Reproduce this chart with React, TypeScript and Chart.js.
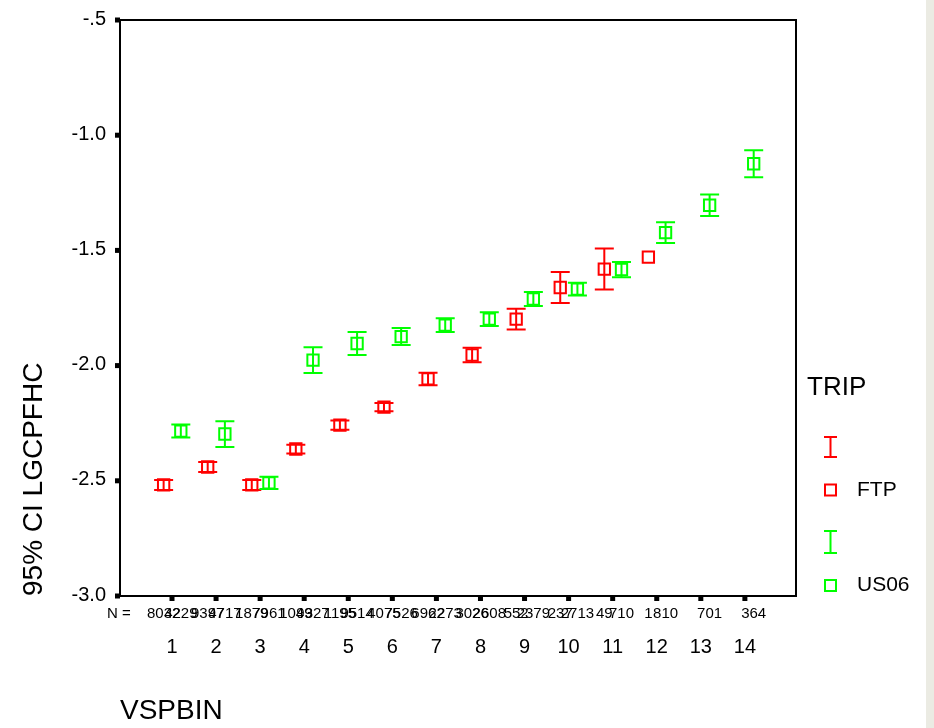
import React, { useEffect, useRef } from "react";
import { Chart, registerables } from "chart.js";

Chart.register(...registerables);

// ---------- data ----------
const categories = [1, 2, 3, 4, 5, 6, 7, 8, 9, 10, 11, 12, 13, 14];
const xTickLabels = ["1", "2", "3", "4", "5", "6", "7", "8", "9", "10", "11", "12", "13", "14"];
const yTickValues = [-3, -2.5, -2, -1.5, -1, -0.5];
const yTickLabels = ["-3.0", "-2.5", "-2.0", "-1.5", "-1.0", "-.5"];

const ftpCategories = [1, 2, 3, 4, 5, 6, 7, 8, 9, 10, 11, 12];
const ftpMean = [-2.518, -2.44, -2.518, -2.362, -2.258, -2.18, -2.058, -1.954, -1.798, -1.661, -1.581, -1.529];
const ftpHalfCI = [0.022, 0.022, 0.022, 0.019, 0.02, 0.018, 0.027, 0.032, 0.045, 0.067, 0.089, null];
const ftpN = ["8032", "9397", "1879", "1049", "1195", "4075", "6962", "3026", "552", "237", "49", "1"];

const us06Categories = [1, 2, 3, 4, 5, 6, 7, 8, 9, 10, 11, 12, 13, 14];
const us06Mean = [-2.284, -2.297, -2.509, -1.976, -1.904, -1.874, -1.824, -1.798, -1.711, -1.668, -1.583, -1.423, -1.304, -1.124];
const us06HalfCI = [0.028, 0.056, 0.027, 0.056, 0.05, 0.037, 0.03, 0.03, 0.03, 0.028, 0.033, 0.045, 0.047, 0.059];
const us06N = ["4229", "4717", "7961", "9327", "9514", "7526", "2273", "2608", "2379", "2713", "710", "810", "701", "364"];

const seriesNames = ["FTP", "US06"];
const legendTitle = "TRIP";
const yTitle = "95% CI LGCPFHC";
const xTitle = "VSPBIN";

// ---------- style ----------
const RED = "#ff0000";
const GREEN = "#00ff00";
const FONT = "Arial, 'Liberation Sans', sans-serif";
const FTP_OFFSET = -0.19;
const US06_OFFSET = 0.2;

const App: React.FC = () => {
  const ref = useRef<HTMLCanvasElement | null>(null);

  useEffect(() => {
    document.body.style.margin = "0";
    const canvas = ref.current;
    if (!canvas) return;

    const ciLists = [ftpHalfCI, us06HalfCI];
    const meanLists = [ftpMean, us06Mean];
    const nLists = [ftpN, us06N];

    const customPlugin = {
      id: "spssStyle",
      afterDatasetsDraw(chart: any) {
        const ctx = chart.ctx;
        const yScale = chart.scales.y;
        ctx.save();
        ctx.lineWidth = 2;
        chart.data.datasets.forEach((ds: any, di: number) => {
          const meta = chart.getDatasetMeta(di);
          ctx.strokeStyle = ds.borderColor;
          meta.data.forEach((pt: any, i: number) => {
            const h = ciLists[di][i];
            if (h == null) return;
            const m = meanLists[di][i];
            const x = pt.x;
            const y1 = yScale.getPixelForValue(m + h);
            const y2 = yScale.getPixelForValue(m - h);
            ctx.beginPath();
            ctx.moveTo(x, y1);
            ctx.lineTo(x, y2);
            ctx.moveTo(x - 9.5, y1);
            ctx.lineTo(x + 9.5, y1);
            ctx.moveTo(x - 9.5, y2);
            ctx.lineTo(x + 9.5, y2);
            ctx.stroke();
          });
        });
        ctx.restore();
      },
      afterDraw(chart: any) {
        const ctx = chart.ctx;
        const { left, right, top, bottom } = chart.chartArea;
        const xScale = chart.scales.x;
        const yScale = chart.scales.y;
        ctx.save();
        // frame
        ctx.strokeStyle = "#000";
        ctx.lineWidth = 2;
        ctx.strokeRect(left, top, right - left, bottom - top);
        // tick squares
        ctx.fillStyle = "#000";
        yTickValues.forEach((v) => {
          const y = yScale.getPixelForValue(v);
          ctx.fillRect(left - 5, y - 2.5, 5, 5);
        });
        categories.forEach((c) => {
          const x = xScale.getPixelForValue(c);
          ctx.fillRect(x - 2.5, bottom + 1, 5, 4);
        });
        // N row
        ctx.font = `15px ${FONT}`;
        ctx.textBaseline = "middle";
        ctx.textAlign = "left";
        ctx.fillText("N =", 107, 614);
        ctx.textAlign = "center";
        chart.data.datasets.forEach((ds: any, di: number) => {
          const meta = chart.getDatasetMeta(di);
          meta.data.forEach((pt: any, i: number) => {
            ctx.fillText(nLists[di][i], pt.x, 614);
          });
        });
        // legend
        ctx.textAlign = "left";
        ctx.textBaseline = "alphabetic";
        ctx.font = `26px ${FONT}`;
        ctx.fillText(legendTitle, 807, 395);
        const drawIBar = (color: string, cx: number, y1: number, y2: number) => {
          ctx.strokeStyle = color;
          ctx.lineWidth = 2;
          ctx.beginPath();
          ctx.moveTo(cx, y1);
          ctx.lineTo(cx, y2);
          ctx.moveTo(cx - 6.5, y1);
          ctx.lineTo(cx + 6.5, y1);
          ctx.moveTo(cx - 6.5, y2);
          ctx.lineTo(cx + 6.5, y2);
          ctx.stroke();
        };
        const drawBox = (color: string, cx: number, cy: number) => {
          ctx.strokeStyle = color;
          ctx.lineWidth = 2;
          ctx.strokeRect(cx - 5.5, cy - 5.5, 11, 11);
        };
        drawIBar(RED, 830.5, 437, 457);
        drawBox(RED, 830.5, 490);
        drawIBar(GREEN, 830.5, 531, 553);
        drawBox(GREEN, 830.5, 585.5);
        ctx.fillStyle = "#000";
        ctx.font = `21px ${FONT}`;
        ctx.fillText(seriesNames[0], 857, 496);
        ctx.fillText(seriesNames[1], 857, 591);
        ctx.restore();
      },
    };

    const chart = new Chart(canvas, {
      type: "scatter",
      data: {
        datasets: [
          {
            label: seriesNames[0],
            data: ftpCategories.map((c, i) => ({ x: c + FTP_OFFSET, y: ftpMean[i] })),
            borderColor: RED,
            backgroundColor: "rgba(0,0,0,0)",
            pointStyle: "rect",
            pointRadius: 8,
            pointBorderWidth: 2,
            pointHoverRadius: 8,
          },
          {
            label: seriesNames[1],
            data: us06Categories.map((c, i) => ({ x: c + US06_OFFSET, y: us06Mean[i] })),
            borderColor: GREEN,
            backgroundColor: "rgba(0,0,0,0)",
            pointStyle: "rect",
            pointRadius: 8,
            pointBorderWidth: 2,
            pointHoverRadius: 8,
          },
        ],
      },
      options: {
        responsive: false,
        animation: false,
        devicePixelRatio: 1,
        layout: { padding: { top: 20, right: 138, left: 0, bottom: 0 } },
        plugins: { legend: { display: false }, tooltip: { enabled: false } },
        scales: {
          x: {
            type: "linear",
            min: -0.18,
            max: 15.16,
            grid: { display: false, drawTicks: false },
            border: { display: false },
            afterBuildTicks: (scale: any) => {
              scale.ticks = categories.map((v) => ({ value: v }));
            },
            afterFit: (scale: any) => {
              scale.height = 132;
              scale.paddingLeft = 0;
              scale.paddingRight = 0;
            },
            ticks: {
              padding: 39,
              color: "#000",
              font: { size: 20, family: FONT },
              maxRotation: 0,
              autoSkip: false,
              callback: (_v: any, i: number) => xTickLabels[i],
            },
            title: {
              display: true,
              text: xTitle,
              align: "start",
              color: "#000",
              font: { size: 28, family: FONT },
              padding: { top: 0, bottom: 0 },
            },
          },
          y: {
            type: "linear",
            min: -3,
            max: -0.5,
            grid: { display: false, drawTicks: false },
            border: { display: false },
            afterBuildTicks: (scale: any) => {
              scale.ticks = yTickValues.map((v) => ({ value: v }));
            },
            afterFit: (scale: any) => {
              scale.width = 120;
              scale.paddingTop = 0;
              scale.paddingBottom = 0;
            },
            ticks: {
              padding: 14,
              labelOffset: -1,
              color: "#000",
              font: { size: 20, family: FONT },
              autoSkip: false,
              callback: (_v: any, i: number) => yTickLabels[i],
            },
            title: {
              display: true,
              text: yTitle,
              align: "start",
              color: "#000",
              font: { size: 28, family: FONT },
              padding: { top: 17, bottom: 0 },
            },
          },
        },
      },
      plugins: [customPlugin],
    } as any);

    return () => chart.destroy();
  }, []);

  return (
    <div style={{ position: "relative", width: 934, height: 728, background: "#fff" }}>
      <canvas ref={ref} width={934} height={728} style={{ display: "block", width: 934, height: 728 }} />
      <div style={{ position: "absolute", left: 926, top: 0, width: 8, height: 728, background: "#ebebe3" }} />
    </div>
  );
};

export default App;
